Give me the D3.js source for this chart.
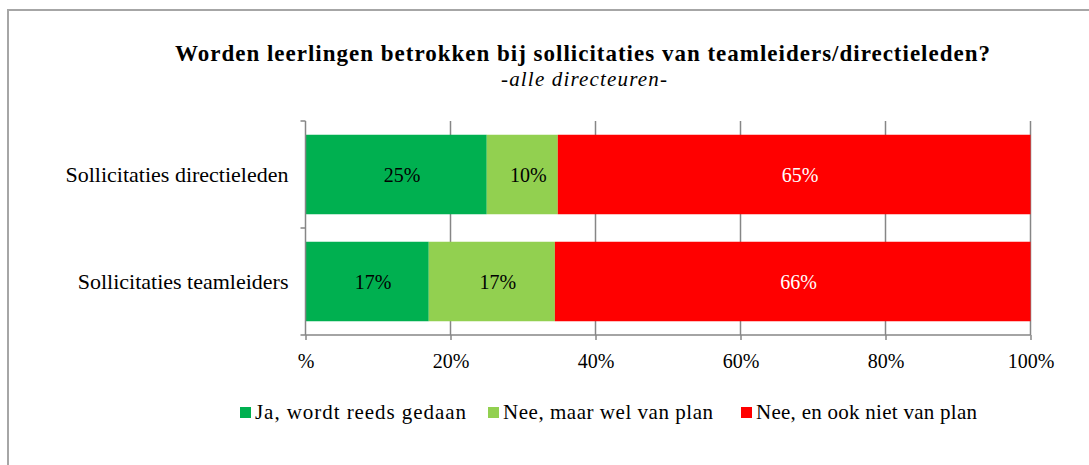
<!DOCTYPE html>
<html>
<head>
<meta charset="utf-8">
<script src="https://cdn.jsdelivr.net/npm/d3@7"></script>
<style>
  html, body { margin: 0; padding: 0; background: #fff; }
  svg text { font-family: "Liberation Serif", "Times New Roman", serif; fill: #000; }
</style>
</head>
<body>
<div id="chart"></div>
<script>
// ===== data =====
const categories = ['Sollicitaties directieleden', 'Sollicitaties teamleiders'];
const seriesNames = ['Ja, wordt reeds gedaan', 'Nee, maar wel van plan', 'Nee, en ook niet van plan'];
const seriesColors = ['#00B050', '#92D050', '#FF0000'];
const labelColors = ['#000', '#000', '#fff'];
const jaValues   = [25.0, 17.0];
const planValues = [9.8, 17.4];
const neeValues  = [65.2, 65.6];
const xTicks = [0, 20, 40, 60, 80, 100];
const xTickLabels = ['%', '20%', '40%', '60%', '80%', '100%'];

const W = 1089, H = 465;
const margin = { left: 305.5, right: 58.5, top: 121, bottom: 130 };

const svg = d3.select('#chart').append('svg')
  .attr('width', W).attr('height', H);

// chart border (only top + left visible)
svg.append('path')
  .attr('d', `M8,${H} L8,10 L${W},10`)
  .attr('fill', 'none')
  .attr('stroke', '#a6a6a6')
  .attr('stroke-width', 2);

// title (Palatino-like width, stretched via textLength)
svg.append('text')
  .attr('x', 582.5).attr('y', 61)
  .attr('text-anchor', 'middle')
  .attr('textLength', 815)
  .attr('lengthAdjust', 'spacing')
  .style('font-weight', 'bold')
  .style('font-size', '23px')
  .text('Worden leerlingen betrokken bij sollicitaties van teamleiders/directieleden?');

svg.append('text')
  .attr('x', 584).attr('y', 86)
  .attr('text-anchor', 'middle')
  .attr('textLength', 166)
  .attr('lengthAdjust', 'spacing')
  .style('font-style', 'italic')
  .style('font-size', '21px')
  .text('-alle directeuren-');

const x = d3.scaleLinear().domain([0, 100]).range([margin.left, W - margin.right]);
const y = d3.scaleBand().domain(categories)
  .range([margin.top, H - margin.bottom])
  .paddingInner(0.257).paddingOuter(0.1285);

// gridlines
svg.append('g')
  .selectAll('line')
  .data(xTicks.filter(t => t > 0))
  .enter().append('line')
  .attr('x1', d => x(d)).attr('x2', d => x(d))
  .attr('y1', margin.top).attr('y2', H - margin.bottom)
  .attr('stroke', '#868686').attr('stroke-width', 1.5);

// stacked rows
const rows = categories.map((c, i) => ({ cat: c, vals: [jaValues[i], planValues[i], neeValues[i]] }));
const segs = [];
rows.forEach(r => {
  let acc = 0;
  r.vals.forEach((v, s) => {
    segs.push({ cat: r.cat, s, x0: acc, x1: acc + v, v });
    acc += v;
  });
});

svg.append('g').selectAll('rect')
  .data(segs)
  .enter().append('rect')
  .attr('x', d => x(d.x0))
  .attr('width', d => x(d.x1) - x(d.x0))
  .attr('y', d => y(d.cat))
  .attr('height', y.bandwidth())
  .attr('fill', d => seriesColors[d.s]);

svg.append('g').selectAll('text')
  .data(segs)
  .enter().append('text')
  .attr('x', d => (x(d.x0) + x(d.x1)) / 2 + 6)
  .attr('y', d => y(d.cat) + y.bandwidth() / 2 + 7)
  .attr('text-anchor', 'middle')
  .style('font-size', '20px')
  .style('fill', d => labelColors[d.s])
  .text(d => Math.round(d.v) + '%');

// x axis
const xAxis = d3.axisBottom(x)
  .tickValues(xTicks)
  .tickSize(5)
  .tickFormat((d, i) => xTickLabels[i]);

const gx = svg.append('g')
  .attr('transform', `translate(0,${H - margin.bottom})`)
  .call(xAxis);
gx.select('.domain').attr('stroke', '#868686').attr('stroke-width', 1.5)
  .attr('d', `M${x(0)},0H${x(100)}`);
gx.selectAll('.tick line').attr('stroke', '#868686').attr('stroke-width', 1.5);
gx.selectAll('.tick text')
  .attr('y', 33)
  .attr('dy', null)
  .style('font-size', '20px')
  .style('font-family', '"Liberation Serif", serif')
  .attr('fill', '#000');

// y axis
const gy = svg.append('g')
  .attr('transform', `translate(${x(0)},0)`);
gy.append('line')
  .attr('x1', 0).attr('x2', 0)
  .attr('y1', margin.top).attr('y2', H - margin.bottom)
  .attr('stroke', '#868686').attr('stroke-width', 1.5);
const yTickPos = [margin.top].concat(categories.map(c => y(c) + y.bandwidth() / 2 + y.step() / 2));
gy.selectAll('.ytick')
  .data(yTickPos)
  .enter().append('line')
  .attr('x1', -5).attr('x2', 0)
  .attr('y1', d => d).attr('y2', d => d)
  .attr('stroke', '#868686').attr('stroke-width', 1.5);
gy.selectAll('.ylab')
  .data(categories)
  .enter().append('text')
  .attr('x', -17)
  .attr('y', d => y(d) + y.bandwidth() / 2 + 7)
  .attr('text-anchor', 'end')
  .style('font-size', '22px')
  .text(d => d);

// legend
const legendX = [240, 488, 741];
const legendW = [211, 210, 221];
const lg = svg.append('g').selectAll('g')
  .data(seriesNames)
  .enter().append('g')
  .attr('transform', (d, i) => `translate(${legendX[i]},407)`);
lg.append('rect')
  .attr('width', 11).attr('height', 11)
  .attr('fill', (d, i) => seriesColors[i]);
lg.append('text')
  .attr('x', 15).attr('y', 12)
  .attr('textLength', (d, i) => legendW[i])
  .attr('lengthAdjust', 'spacing')
  .style('font-size', '21px')
  .text(d => d);
</script>
</body>
</html>
